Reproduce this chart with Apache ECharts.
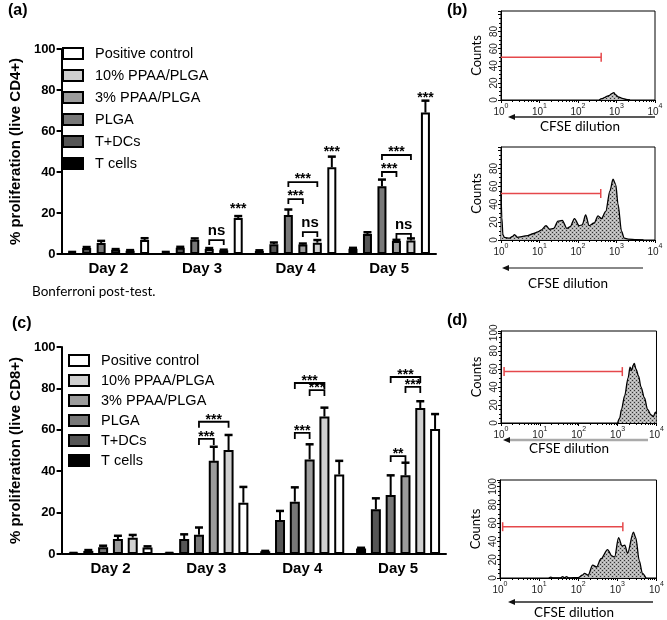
<!DOCTYPE html>
<html><head><meta charset="utf-8">
<script src="https://cdn.jsdelivr.net/npm/echarts/dist/echarts.min.js"></script>
<style>html,body{margin:0;padding:0;background:#fff}#c{width:667px;height:620px}</style>
</head><body><div id="c"></div>
<script>
// ---------------- DATA ----------------
const days = ['Day 2', 'Day 3', 'Day 4', 'Day 5'];
const groupNames = ['T cells', 'T+DCs', 'PLGA', '3% PPAA/PLGA', '10% PPAA/PLGA', 'Positive control'];
const legendOrder = ['Positive control', '10% PPAA/PLGA', '3% PPAA/PLGA', 'PLGA', 'T+DCs', 'T cells'];
const pctTicks = [0, 20, 40, 60, 80, 100];

// (a) % proliferation (live CD4+)
const cd4TCells   = [0.8, 0.8, 1.5, 2.6];
const cd4TDCs     = [2.9, 3.1, 4.8, 9.7];
const cd4PLGA     = [5.4, 7.0, 19.0, 33.0];
const cd4PPAA3    = [2.1, 2.5, 4.6, 6.3];
const cd4PPAA10   = [1.6, 1.8, 5.5, 6.6];
const cd4Pos      = [6.8, 17.6, 42.3, 69.0];
const cd4TCellsErr = [0.2, 0.2, 0.3, 0.4];
const cd4TDCsErr   = [0.5, 0.4, 0.8, 0.9];
const cd4PLGAErr   = [1.0, 0.6, 2.7, 3.3];
const cd4PPAA3Err  = [0.3, 0.4, 0.5, 0.6];
const cd4PPAA10Err = [0.3, 0.3, 1.3, 1.0];
const cd4PosErr    = [0.9, 0.9, 5.2, 5.8];
// brackets: [dayIndex, barA, barB, level]
const cd4Brackets = [[1,3,4,6.8],[2,2,3,26.8],[2,2,4,35.1],[2,3,4,10.7],[3,2,3,40.0],[3,2,4,48.3],[3,3,4,9.8]];
const cd4BracketLabels = ['ns','***','***','ns','***','***','ns'];
const cd4Singles = [[1,5,20.5],[2,5,48.3],[3,5,74.6]];
const cd4SingleLabels = ['***','***','***'];

// (c) % proliferation (live CD8+)
const cd8TCells   = [0.4, 0.4, 1.3, 2.6];
const cd8TDCs     = [1.5, 7.2, 16.4, 21.6];
const cd8PLGA     = [3.3, 9.3, 25.3, 28.5];
const cd8PPAA3    = [7.2, 45.0, 45.7, 38.0];
const cd8PPAA10   = [7.9, 50.2, 66.4, 70.5];
const cd8Pos      = [3.2, 24.8, 38.4, 60.4];
const cd8TCellsErr = [0.1, 0.1, 0.2, 0.4];
const cd8TDCsErr   = [0.4, 2.3, 4.4, 5.3];
const cd8PLGAErr   = [0.7, 3.5, 6.9, 9.5];
const cd8PPAA3Err  = [1.6, 6.8, 7.3, 6.1];
const cd8PPAA10Err = [1.3, 7.3, 4.3, 3.3];
const cd8PosErr    = [0.5, 7.6, 6.6, 7.2];
const cd8Brackets = [[1,2,3,55.6],[1,2,4,63.9],[2,2,3,58.5],[2,2,4,82.6],[2,3,4,79.2],[3,2,3,47.3],[3,2,4,85.5],[3,3,4,80.7]];
const cd8BracketLabels = ['***','***','***','***','***','**','***','***'];

// (b),(d) CFSE histograms: [CFSE intensity, counts]
const cfseTicks = [1, 10, 100, 1000, 10000];
const countTicks = [0, 20, 40, 60, 80, 100];
const histB1 = [[355,0],[417,1.5],[500,3],[537,4],[630,5],[760,7.5],[850,8.7],[955,6],[1120,3.5],[1410,2],[1780,0.8],[2240,0]];
const histB2 = [[1,55],[1.05,25],[1.12,6],[1.22,3],[1.66,2],[2.0,4],[2.24,6],[2.69,3],[3.72,4],[5.0,5],[6.76,7],[9.1,9],[11,11],[14.8,16],[18.2,12],[23.4,13],[30.2,21],[38.9,22],[51.3,13],[63,15],[81,24],[107,16],[129,17],[158,28],[195,16],[263,19],[331,27],[407,24],[525,32],[676,55],[813,68],[955,62],[1096,40],[1349,10],[1585,2],[1995,1],[3311,0.5],[5012,0]];
const histD1 = [[1000,0],[1122,5],[1259,15],[1514,30],[1862,50],[2089,62],[2291,58],[2512,64],[2692,66],[2951,60],[3467,52],[3981,40],[4898,28],[5888,15],[7244,9],[8318,7],[9333,12],[10000,10]];
const histD2 = [[17.8,0],[20,1],[22.4,0],[35.5,0],[39.8,1.5],[44.7,0],[50.1,1.5],[56.2,0],[100,0.5],[126,3],[145,5],[178,3],[234,14],[295,12],[380,21],[562,31],[724,24],[851,23],[1072,44],[1318,35],[1549,36],[1820,27],[2570,50],[2951,44],[3631,19],[4365,5],[5370,0]];
// gates: [from, to, level, leftCap]
const gateB1 = [1, 400, 50, 0];
const gateB2 = [1, 390, 52, 0];
const gateD1 = [1.2, 1320, 57, 1];
const gateD2 = [1.17, 1380, 56, 1];

// ---------------- STYLE ----------------
const AR = 'Liberation Sans, Arial, sans-serif';
const CAL = 'Lato, Open Sans, sans-serif';
const barColors = ['#000000', '#555555', '#787878', '#9c9c9c', '#d0d0d0', '#ffffff'];
const barCfg = [
  {grid:{left:53, top:49, width:383, height:205}, bw:9, gap:0.61, yOff:0, nameGap:34, yName:'% proliferation (live CD4+)',
   leg:{left:62, top:46, gap:7}, bracketLeg:5, starOff:3, nsOff:9.5},
  {grid:{left:55, top:347, width:391, height:207}, bw:10, gap:0.48, yOff:1, nameGap:35, yName:'% proliferation (live CD8+)',
   leg:{left:68, top:353, gap:5}, bracketLeg:6, starOff:2, nsOff:9.5}
];
barCfg.forEach(c => c.pitch = c.bw * (1 + c.gap));
const histCfg = [
  {grid:{left:501, top:11, width:154, height:89}, ymax:104, labTop:80, arrow:{x1:508,x2:655,y:117,color:'#222',w:1.5}, text:{x:580,y:127}},
  {grid:{left:501, top:147, width:154, height:93}, ymax:104, labTop:80, arrow:{x1:502,x2:643,y:268,color:'#888',w:2}, text:{x:568,y:284}},
  {grid:{left:501, top:331, width:158, height:92}, ymax:102, labTop:100, arrow:{x1:503,x2:648,y:440,color:'#aaa',w:2.5}, text:{x:569,y:449}},
  {grid:{left:500, top:480, width:157, height:98}, ymax:107, labTop:100, arrow:{x1:508,x2:653,y:602,color:'#222',w:1.5}, text:{x:574,y:613}}
];

function makePattern() {
  const c = document.createElement('canvas'); c.width = 4; c.height = 4;
  const g = c.getContext('2d');
  g.fillStyle = '#b4b4b4'; g.fillRect(0, 0, 4, 4);
  g.fillStyle = '#333'; g.fillRect(0, 0, 1, 1); g.fillRect(2, 2, 1, 1);
  g.fillStyle = '#d6d6d6'; g.fillRect(2, 0, 1, 1); g.fillRect(0, 2, 1, 1);
  return c;
}
const pattern = {image: makePattern(), repeat: 'repeat'};

// ---------------- BUILD ----------------
const grids = [], xAxes = [], yAxes = [], series = [], legends = [], graphics = [];

const panels = [
  {vals:[cd4TCells,cd4TDCs,cd4PLGA,cd4PPAA3,cd4PPAA10,cd4Pos], errs:[cd4TCellsErr,cd4TDCsErr,cd4PLGAErr,cd4PPAA3Err,cd4PPAA10Err,cd4PosErr],
   brackets:cd4Brackets, blabels:cd4BracketLabels, singles:cd4Singles, slabels:cd4SingleLabels},
  {vals:[cd8TCells,cd8TDCs,cd8PLGA,cd8PPAA3,cd8PPAA10,cd8Pos], errs:[cd8TCellsErr,cd8TDCsErr,cd8PLGAErr,cd8PPAA3Err,cd8PPAA10Err,cd8PosErr],
   brackets:cd8Brackets, blabels:cd8BracketLabels, singles:[], slabels:[]}
];

panels.forEach((p, gi) => {
  const cfg = barCfg[gi];
  grids.push(Object.assign({show:false}, cfg.grid));
  xAxes.push({type:'category', gridIndex:gi, data:days, boundaryGap:true,
    axisLine:{lineStyle:{color:'#000', width:2}},
    axisTick:{alignWithLabel:true, length:5, lineStyle:{color:'#000', width:2}},
    axisLabel:{color:'#000', fontFamily:AR, fontWeight:'bold', fontSize:15, margin:7}});
  yAxes.push({type:'value', gridIndex:gi, min:pctTicks[0], max:pctTicks[pctTicks.length-1], interval:20, offset:cfg.yOff,
    name:cfg.yName, nameLocation:'middle', nameGap:cfg.nameGap, nameRotate:90,
    nameTextStyle:{color:'#000', fontFamily:AR, fontWeight:'bold', fontSize:15},
    axisLine:{show:true, lineStyle:{color:'#000', width:2}},
    axisTick:{show:true, length:5, lineStyle:{color:'#000', width:2}},
    splitLine:{show:false},
    axisLabel:{color:'#000', fontFamily:AR, fontWeight:'bold', fontSize:13, margin:6}});
  p.vals.forEach((v, k) => {
    series.push({type:'bar', name:groupNames[k], xAxisIndex:gi, yAxisIndex:gi, data:v,
      barWidth:cfg.bw, barGap:(cfg.gap*100)+'%',
      itemStyle:{color:barColors[k], borderColor:'#000', borderWidth:2}, silent:true, z:2});
  });
  const errData = [];
  p.vals.forEach((v, k) => v.forEach((val, d) => errData.push([d, k, val, p.errs[k][d]])));
  series.push({type:'custom', xAxisIndex:gi, yAxisIndex:gi, silent:true, z:5, clip:false,
    encode:{x:0, y:2}, data:errData,
    renderItem(params, api) {
      const d = api.value(0), k = api.value(1), v = api.value(2), e = api.value(3);
      const p0 = api.coord([d, v]), p1 = api.coord([d, v + e]);
      const x = p0[0] + (k - 2.5) * cfg.pitch;
      return {type:'group', children:[
        {type:'line', shape:{x1:x, y1:p0[1], x2:x, y2:p1[1]}, style:{stroke:'#000', lineWidth:2}},
        {type:'line', shape:{x1:x-4, y1:p1[1], x2:x+4, y2:p1[1]}, style:{stroke:'#000', lineWidth:2.5}}
      ]};
    }});
  series.push({type:'custom', xAxisIndex:gi, yAxisIndex:gi, silent:true, z:6, clip:false,
    encode:{x:0, y:3}, data:p.brackets,
    renderItem(params, api) {
      const pt = api.coord([api.value(0), api.value(3)]);
      const xa = pt[0] + (api.value(1) - 2.5) * cfg.pitch;
      const xb = pt[0] + (api.value(2) - 2.5) * cfg.pitch;
      const y = pt[1];
      const lab = p.blabels[params.dataIndex];
      const star = lab.indexOf('*') >= 0;
      return {type:'group', children:[
        {type:'polyline', shape:{points:[[xa, y+cfg.bracketLeg],[xa, y],[xb, y],[xb, y+cfg.bracketLeg]]}, style:{stroke:'#000', lineWidth:1.8, fill:'none'}},
        {type:'text', style:{text:lab, x:(xa+xb)/2, y:y - (star ? cfg.starOff : cfg.nsOff), align:'center', verticalAlign:'middle',
          fontSize: star ? 14 : 15, fontWeight:'bold', fontFamily:AR, fill:'#000'}}
      ]};
    }});
  if (p.singles.length) {
    series.push({type:'custom', xAxisIndex:gi, yAxisIndex:gi, silent:true, z:6, clip:false,
      encode:{x:0, y:2}, data:p.singles,
      renderItem(params, api) {
        const pt = api.coord([api.value(0), api.value(2)]);
        const x = pt[0] + (api.value(1) - 2.5) * cfg.pitch;
        return {type:'text', style:{text:p.slabels[params.dataIndex], x:x, y:pt[1] - cfg.starOff, align:'center', verticalAlign:'middle',
          fontSize:14, fontWeight:'bold', fontFamily:AR, fill:'#000'}};
      }});
  }
  legends.push({orient:'vertical', left:cfg.leg.left, top:cfg.leg.top, padding:0, itemGap:cfg.leg.gap,
    itemWidth:20, itemHeight:11, icon:'rect', selectedMode:false, data:legendOrder,
    itemStyle:{borderColor:'#000', borderWidth:2},
    textStyle:{color:'#000', fontFamily:AR, fontSize:14.5, padding:[0,0,0,7]}});
});

const hists = [histB1, histB2, histD1, histD2];
const gates = [gateB1, gateB2, gateD1, gateD2];
hists.forEach((h, i) => {
  const gi = i + 2, cfg = histCfg[i];
  grids.push(Object.assign({show:true, borderColor:'#000', borderWidth:1, backgroundColor:'transparent'}, cfg.grid));
  xAxes.push({type:'log', logBase:10, gridIndex:gi, min:cfseTicks[0], max:cfseTicks[cfseTicks.length-1],
    axisLine:{lineStyle:{color:'#000', width:1}},
    axisTick:{length:3, lineStyle:{color:'#000'}},
    minorTick:{show:true, splitNumber:9, length:2, lineStyle:{color:'#000'}},
    splitLine:{show:false},
    axisLabel:{margin:3, color:'#222', showMinLabel:true, showMaxLabel:true,
      formatter: v => '{b|10}{s|' + Math.round(Math.log10(v)) + '}',
      rich:{b:{fontFamily:AR, fontSize:10, color:'#222', lineHeight:14, verticalAlign:'bottom'},
            s:{fontFamily:AR, fontSize:7, color:'#222', lineHeight:8, verticalAlign:'top'}}}});
  yAxes.push({type:'value', gridIndex:gi, min:countTicks[0], max:cfg.ymax, interval:20,
    name:'Counts', nameLocation:'middle', nameGap:18, nameRotate:90,
    nameTextStyle:{color:'#000', fontFamily:CAL, fontSize:13},
    axisLine:{show:true, lineStyle:{color:'#000', width:1}},
    axisTick:{show:true, length:3, lineStyle:{color:'#000'}},
    minorTick:{show:true, splitNumber:4, length:2, lineStyle:{color:'#000'}},
    splitLine:{show:false},
    axisLabel:{rotate:90, margin:2, fontFamily:AR, fontSize:10, color:'#222',
      formatter: v => (countTicks.indexOf(v) >= 0 && v <= cfg.labTop) ? String(v) : ''}});
  series.push({type:'line', xAxisIndex:gi, yAxisIndex:gi, data:h, showSymbol:false, symbol:'none', smooth:0.3, smoothMonotone:'x',
    silent:true, lineStyle:{color:'#000', width:1.3}, areaStyle:{color:pattern, opacity:1}, z:3});
  series.push({type:'custom', xAxisIndex:gi, yAxisIndex:gi, silent:true, z:6, clip:false,
    encode:{x:[0,1], y:2}, data:[gates[i]],
    renderItem(params, api) {
      const a = api.coord([api.value(0), api.value(2)]), b = api.coord([api.value(1), api.value(2)]);
      const ch = [
        {type:'line', shape:{x1:a[0], y1:a[1], x2:b[0], y2:b[1]}, style:{stroke:'#e5484b', lineWidth:1.5}},
        {type:'line', shape:{x1:b[0], y1:b[1]-4.5, x2:b[0], y2:b[1]+4.5}, style:{stroke:'#e5484b', lineWidth:1.5}}
      ];
      if (api.value(3)) ch.push({type:'line', shape:{x1:a[0], y1:a[1]-4.5, x2:a[0], y2:a[1]+4.5}, style:{stroke:'#e5484b', lineWidth:1.5}});
      return {type:'group', children:ch};
    }});
  const ar = cfg.arrow;
  graphics.push({type:'line', shape:{x1:ar.x1+5, y1:ar.y, x2:ar.x2, y2:ar.y}, style:{stroke:ar.color, lineWidth:ar.w}, silent:true});
  graphics.push({type:'polygon', shape:{points:[[ar.x1, ar.y],[ar.x1+7, ar.y-3],[ar.x1+7, ar.y+3]]}, style:{fill:'#111'}, silent:true});
  graphics.push({type:'text', x:cfg.text.x, y:cfg.text.y, style:{text:'CFSE dilution', fontFamily:CAL, fontSize:13.5, fill:'#000', align:'center', verticalAlign:'middle'}, silent:true});
});

const titleStyle = {color:'#000', fontFamily:AR, fontWeight:'bold', fontSize:16};
const option = {
  animation:false,
  backgroundColor:'#fff',
  title:[
    {text:'(a)', left:8, top:3, padding:0, textStyle:titleStyle},
    {text:'(b)', left:447, top:3, padding:0, textStyle:titleStyle},
    {text:'(c)', left:12, top:316, padding:0, textStyle:titleStyle},
    {text:'(d)', left:447, top:313, padding:0, textStyle:titleStyle},
    {text:'Bonferroni post-test.', left:32, top:285, padding:0, textStyle:{color:'#000', fontFamily:CAL, fontWeight:'normal', fontSize:13.5}}
  ],
  legend:legends,
  grid:grids, xAxis:xAxes, yAxis:yAxes, series:series,
  graphic:graphics
};
const chart = echarts.init(document.getElementById('c'), null, {renderer:'canvas'});
chart.setOption(option);
</script></body></html>
